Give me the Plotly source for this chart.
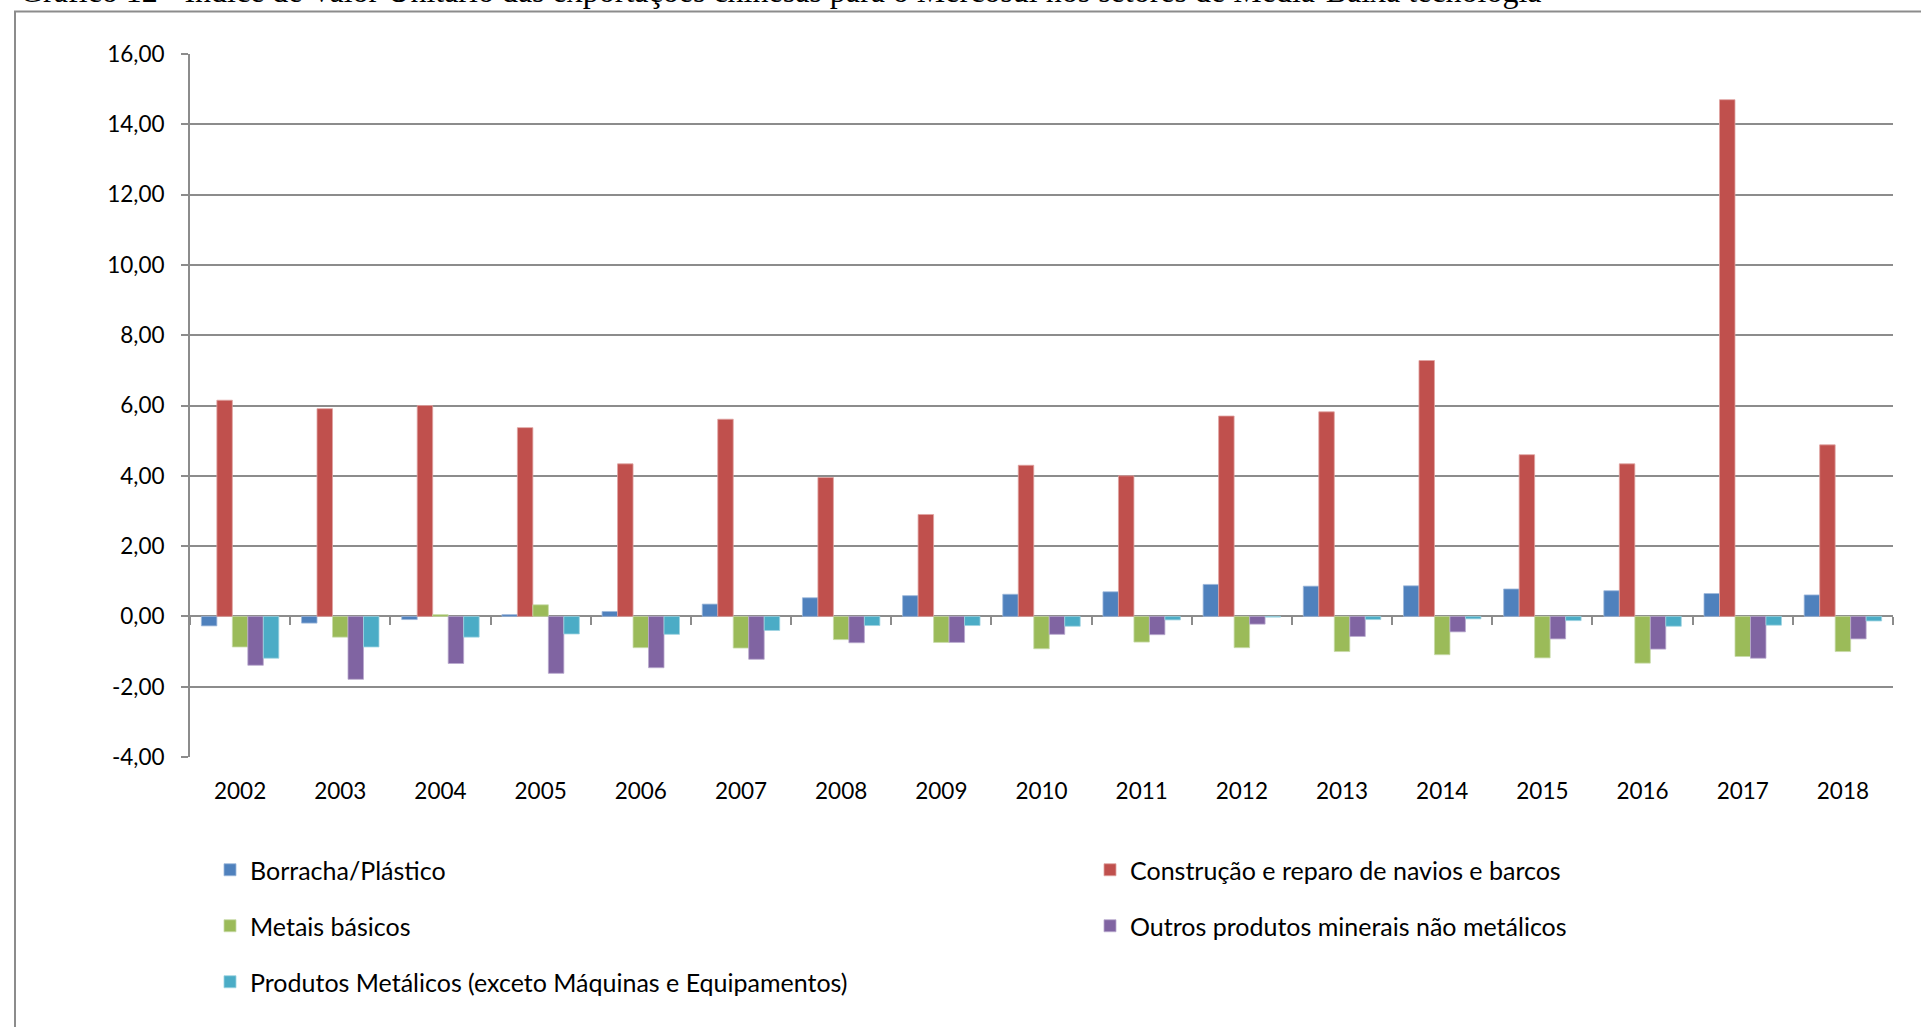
import plotly.graph_objects as go

years = ["2002", "2003", "2004", "2005", "2006", "2007", "2008", "2009", "2010",
         "2011", "2012", "2013", "2014", "2015", "2016", "2017", "2018"]

borracha = [-0.27, -0.19, -0.09, 0.05, 0.14, 0.35, 0.53, 0.59, 0.63,
            0.70, 0.91, 0.86, 0.87, 0.78, 0.73, 0.65, 0.61]
construcao = [6.15, 5.91, 6.00, 5.37, 4.34, 5.61, 3.95, 2.90, 4.30,
              4.00, 5.70, 5.82, 7.28, 4.60, 4.34, 14.70, 4.88]
metais = [-0.87, -0.59, 0.05, 0.33, -0.89, -0.90, -0.66, -0.74, -0.92,
          -0.73, -0.89, -1.00, -1.09, -1.18, -1.33, -1.14, -1.00]
outros = [-1.39, -1.79, -1.34, -1.62, -1.46, -1.22, -0.75, -0.74, -0.51,
          -0.52, -0.22, -0.57, -0.44, -0.64, -0.93, -1.19, -0.64]
produtos = [-1.19, -0.87, -0.59, -0.50, -0.51, -0.40, -0.26, -0.26, -0.28,
            -0.10, -0.02, -0.09, -0.07, -0.12, -0.28, -0.25, -0.13]

series_names = ["Borracha/Plástico",
                "Construção e reparo de navios e barcos",
                "Metais básicos",
                "Outros produtos minerais não metálicos",
                "Produtos Metálicos (exceto Máquinas e Equipamentos)"]
series_values = [borracha, construcao, metais, outros, produtos]
colors = ["#4F81BD", "#C0504D", "#9BBB59", "#8064A2", "#4BACC6"]
edge_colors = ["#9DB8DA", "#DFA3A1", "#C8DAA8", "#B9A9CE", "#9DD3E1"]

y_tickvals = [-4, -2, 0, 2, 4, 6, 8, 10, 12, 14, 16]
y_ticktext = ["-4,00", "-2,00", "0,00", "2,00", "4,00", "6,00", "8,00",
              "10,00", "12,00", "14,00", "16,00"]

title_text = ("Gráfico 12 - Índice de Valor Unitário das exportações chinesas para o "
              "Mercosul nos setores de Média-Baixa tecnologia")

W, H = 1921, 1027
L, R, T, B = 190, 28, 54, 270
PW = W - L - R
PH = H - T - B


def px_x(px):
    return (px - L) / PW


def px_y(py):
    return (H - B - py) / PH


fig = go.Figure()
legend_ids = ["legend", "legend2", "legend3", "legend4", "legend5"]
for name, vals, c, ec, lid in zip(series_names, series_values, colors, edge_colors, legend_ids):
    fig.add_trace(go.Bar(
        x=years, y=vals, name=name,
        marker=dict(color=c, line=dict(color=ec, width=0.8)),
        legend=lid,
    ))

font_family = "Lato, 'Open Sans', sans-serif"

# legend positions (pixel) for each item
legend_pos = [(210, 870), (1090, 870), (210, 926), (1090, 926), (210, 982)]
layout_legends = {}
for lid, (lx, ly) in zip(legend_ids, legend_pos):
    layout_legends[lid] = dict(
        x=px_x(lx), y=px_y(ly), xanchor="left", yanchor="middle",
        xref="paper", yref="paper",
        font=dict(family=font_family, size=25, color="#000000"),
        bgcolor="rgba(0,0,0,0)", borderwidth=0,
    )

fig.update_layout(
    width=W, height=H,
    margin=dict(l=L, r=R, t=T, b=B, pad=0),
    paper_bgcolor="white", plot_bgcolor="white",
    barmode="group", bargap=0.227, bargroupgap=0,
    showlegend=True,
    font=dict(family=font_family, size=22, color="#000000"),
    **layout_legends,
)

fig.update_xaxes(
    type="category", showgrid=False, showline=False, zeroline=False,
    ticks="", tickfont=dict(family=font_family, size=22.5, color="#000000"),
    ticklabelstandoff=18,
)
fig.update_yaxes(
    range=[-4, 16], tickvals=y_tickvals, ticktext=y_ticktext,
    showgrid=True, gridcolor="#8C8C8C", gridwidth=2,
    zeroline=True, zerolinecolor="#8C8C8C", zerolinewidth=2,
    showline=True, linecolor="#8C8C8C", linewidth=2,
    ticks="outside", ticklen=7, tickwidth=2, tickcolor="#8C8C8C",
    tickfont=dict(family=font_family, size=22.5, color="#000000"),
    ticklabelstandoff=12,
)

# secondary x axis for category boundary tick marks at the zero line
fig.update_layout(
    xaxis2=dict(
        overlaying="x", matches="x", type="category", anchor="free",
        position=(0 - (-4)) / 20, side="bottom",
        showgrid=False, showline=False, zeroline=False,
        ticks="outside", tickson="boundaries", ticklen=8, tickwidth=2,
        tickcolor="#8C8C8C", showticklabels=False,
    )
)
fig.add_trace(go.Bar(x=years, y=[None] * len(years), xaxis="x2", showlegend=False,
                     hoverinfo="skip"))

# title (cut off at the top, as in the document screenshot)
fig.add_annotation(
    text=title_text, xref="paper", yref="paper",
    x=px_x(18), y=px_y(-9), xanchor="left", yanchor="middle",
    showarrow=False,
    font=dict(family="'Liberation Serif', 'Times New Roman', serif", size=32, color="#000000"),
)

# outer chart frame
fig.add_shape(
    type="rect", xref="paper", yref="paper",
    x0=px_x(15), x1=px_x(2000), y0=px_y(11.5), y1=px_y(1100),
    line=dict(color="#8C8C8C", width=2), fillcolor="rgba(0,0,0,0)", layer="below",
)

fig.write_html("out.html")
